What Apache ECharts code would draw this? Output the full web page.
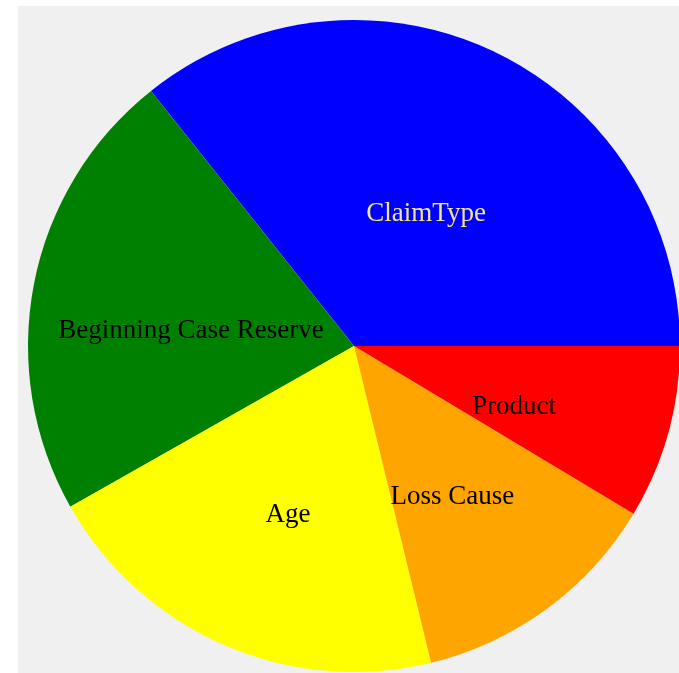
<!DOCTYPE html>
<html>
<head>
  <meta charset="utf-8">
  <title>Claim factors</title>
  <script src="https://cdn.jsdelivr.net/npm/echarts@6/dist/echarts.min.js"></script>
  <style>
    html, body { margin: 0; padding: 0; background: #ffffff; }
    #main { position: absolute; left: 18px; top: 6px; width: 661px; height: 667px; }
  </style>
</head>
<body>
  <div id="main"></div>
  <script type="text/javascript">
    // slice data (share of the circle, %)
    var categories = ['ClaimType', 'Beginning Case Reserve', 'Age', 'Loss Cause', 'Product'];
    var values = [35.7, 22.5, 20.6, 12.6, 8.6];
    var colors = ['#0000ff', '#008000', '#ffff00', '#ffa500', '#ff0000'];
    var labelColors = ['#f0e68c', '#000000', '#000000', '#000000', '#000000'];

    var myChart = echarts.init(document.getElementById('main'));

    var data = categories.map(function (name, i) {
      return {
        name: name,
        value: values[i],
        itemStyle: { color: colors[i] },
        label: { color: labelColors[i] }
      };
    });

    var option = {
      backgroundColor: '#f0f0f0',
      animation: false,
      series: [{
        type: 'pie',
        center: [336, 340],
        radius: 326,
        startAngle: 0,
        clockwise: false,
        avoidLabelOverlap: false,
        itemStyle: { borderWidth: 0 },
        label: {
          show: true,
          position: 'inside',
          formatter: '{b}',
          fontFamily: 'Liberation Serif',
          fontSize: 27,
          offset: [0, 17]
        },
        labelLine: { show: false },
        emphasis: { disabled: true },
        data: data
      }]
    };

    myChart.setOption(option);
  </script>
</body>
</html>
